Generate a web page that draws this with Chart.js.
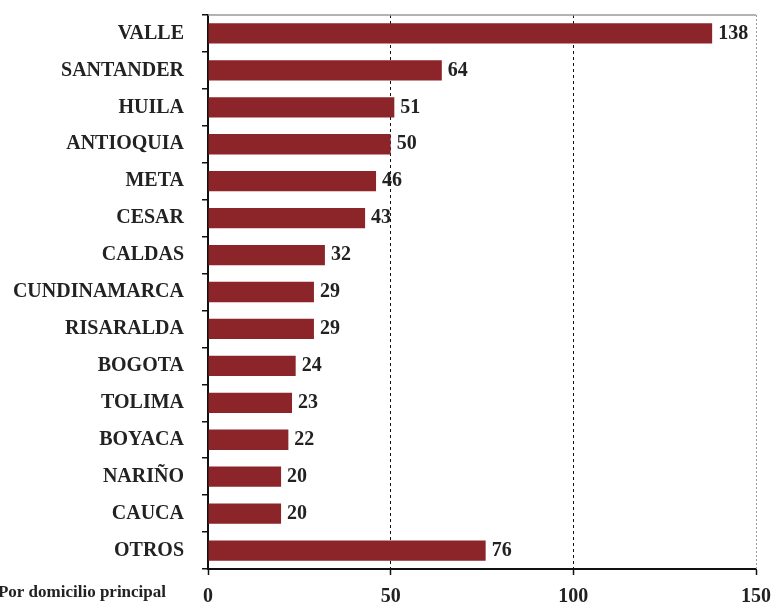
<!DOCTYPE html>
<html>
<head>
<meta charset="utf-8">
<script src="https://cdn.jsdelivr.net/npm/chart.js@4/dist/chart.umd.min.js"></script>
<style>
  html, body { margin: 0; padding: 0; background: #ffffff; }
  #wrap { width: 776px; height: 603px; position: relative; }
</style>
</head>
<body>
<div id="wrap"><canvas id="chart" width="776" height="603"></canvas></div>
<script>
// Departamentos ordenados por número de registros
const categories = ['VALLE', 'SANTANDER', 'HUILA', 'ANTIOQUIA', 'META', 'CESAR', 'CALDAS',
  'CUNDINAMARCA', 'RISARALDA', 'BOGOTA', 'TOLIMA', 'BOYACA', 'NARIÑO', 'CAUCA', 'OTROS'];
const values = [138, 64, 51, 50, 46, 43, 32, 29, 29, 24, 23, 22, 20, 20, 76];
const xTicks = [0, 50, 100, 150];
const footLabel = 'Por domicilio principal';

const SERIF = '"Liberation Serif", "DejaVu Serif", serif';
const BAR = '#8b2529';
const INK = '#222222';

// Etiquetas de valor a la derecha de cada barra
const valueLabels = {
  id: 'valueLabels',
  afterDatasetsDraw(chart) {
    const ctx = chart.ctx;
    const meta = chart.getDatasetMeta(0);
    ctx.save();
    ctx.font = 'bold 20px ' + SERIF;
    ctx.fillStyle = INK;
    ctx.textAlign = 'left';
    ctx.textBaseline = 'middle';
    meta.data.forEach((bar, i) => {
      ctx.fillText(String(values[i]), bar.x + 6, bar.y);
    });
    ctx.restore();
  }
};

// Marco superior y derecho del área de trazado, y nota al pie
const frame = {
  id: 'frame',
  afterDraw(chart) {
    const { ctx, chartArea: a } = chart;
    ctx.save();
    ctx.strokeStyle = '#9a9a9a';
    ctx.lineWidth = 1.5;
    ctx.beginPath();
    ctx.moveTo(a.left, a.top);
    ctx.lineTo(a.right, a.top);
    ctx.stroke();
    ctx.setLineDash([2, 2]);
    ctx.lineWidth = 1;
    ctx.beginPath();
    ctx.moveTo(a.right + 0.5, a.top);
    ctx.lineTo(a.right + 0.5, a.bottom);
    ctx.stroke();
    ctx.restore();

    ctx.save();
    ctx.font = 'bold 17px ' + SERIF;
    ctx.fillStyle = INK;
    ctx.textAlign = 'right';
    ctx.textBaseline = 'middle';
    ctx.fillText(footLabel, 166, 593);
    ctx.restore();
  }
};

new Chart(document.getElementById('chart'), {
  type: 'bar',
  data: {
    labels: categories,
    datasets: [{
      data: values,
      backgroundColor: BAR,
      borderWidth: 0,
      categoryPercentage: 1,
      barPercentage: 0.55
    }]
  },
  options: {
    indexAxis: 'y',
    responsive: false,
    animation: false,
    layout: { padding: { top: 15, right: 20, left: 0, bottom: 0 } },
    plugins: { legend: { display: false }, tooltip: { enabled: false } },
    scales: {
      x: {
        type: 'linear',
        min: 0,
        max: 150,
        afterBuildTicks(scale) { scale.ticks = xTicks.map(v => ({ value: v })); },
        afterFit(scale) {
          scale.height = 34;
          scale.paddingLeft = 0;
          scale.paddingRight = 0;
        },
        // border.dash applies to the vertical grid lines; the axis line stays solid
        border: { display: true, color: '#111111', width: 2, dash: [3, 3] },
        grid: {
          drawOnChartArea: true,
          drawTicks: true,
          tickLength: 6,
          tickColor: '#111111',
          tickWidth: 1.5,
          lineWidth: 1,
          color: ctx => (ctx.tick && (ctx.tick.value === 50 || ctx.tick.value === 100)) ? '#111111' : 'rgba(0,0,0,0)'
        },
        ticks: {
          color: INK,
          padding: 10,
          font: { family: SERIF, size: 20, weight: 'bold' }
        }
      },
      y: {
        type: 'category',
        offset: true,
        afterFit(scale) {
          scale.width = 208;
          scale.paddingTop = 0;
          scale.paddingBottom = 0;
        },
        border: { display: true, color: '#111111', width: 2 },
        grid: {
          offset: true,
          drawOnChartArea: false,
          drawTicks: true,
          tickLength: 6,
          color: '#111111',
          lineWidth: 1.5
        },
        ticks: {
          color: INK,
          padding: 18,
          autoSkip: false,
          font: { family: SERIF, size: 20, weight: 'bold' }
        }
      }
    }
  },
  plugins: [valueLabels, frame]
});
</script>
</body>
</html>
